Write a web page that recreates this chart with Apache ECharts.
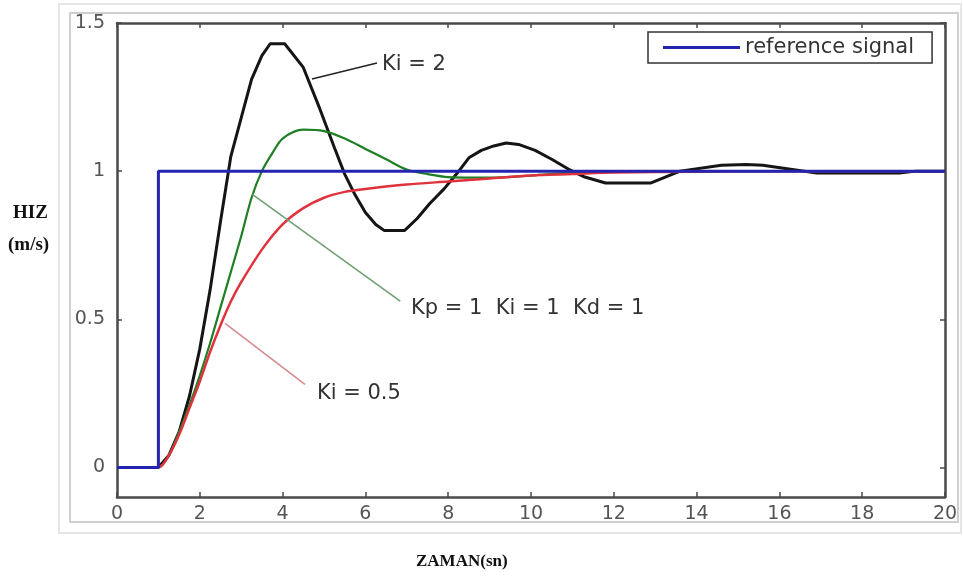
<!DOCTYPE html>
<html>
<head>
<meta charset="utf-8">
<title>PID step response</title>
<script src="https://cdn.jsdelivr.net/npm/echarts@6.0.0/dist/echarts.min.js"></script>
<style>
  html, body { margin: 0; padding: 0; background: #fff; }
  #chart { width: 963px; height: 580px; }
</style>
</head>
<body>
<div id="chart"></div>
<script>
// time axis ticks and y tick values
const xTicks = [0, 2, 4, 6, 8, 10, 12, 14, 16, 18, 20]
const yTicks = [0, 0.5, 1, 1.5]

// reference step
const tRef = [0, 1, 1, 20]
const vRef = [0, 0, 1, 1]

// Ki = 2 (black)
const tKi2 = [0, 1, 1.25, 1.5, 1.75, 2, 2.25, 2.5, 2.75, 3, 3.25, 3.5, 3.7, 4.05, 4.5, 4.9, 5.25, 5.5, 5.75, 6, 6.25, 6.45, 6.95, 7.25, 7.55, 7.9, 8.2, 8.5, 8.8, 9.1, 9.4, 9.7, 10.1, 10.5, 10.9, 11.3, 11.8, 12.9, 13.6, 14.6, 15.2, 15.6, 16.1, 16.9, 18.9, 19.3, 20]
const vKi2 = [0, 0, 0.04, 0.12, 0.24, 0.40, 0.60, 0.83, 1.05, 1.18, 1.31, 1.39, 1.43, 1.43, 1.35, 1.21, 1.08, 0.99, 0.92, 0.86, 0.82, 0.80, 0.80, 0.84, 0.89, 0.94, 0.99, 1.045, 1.07, 1.085, 1.095, 1.09, 1.07, 1.04, 1.007, 0.98, 0.96, 0.96, 1.0, 1.02, 1.022, 1.02, 1.01, 0.994, 0.994, 1.0, 1.0]

// Kp = 1 Ki = 1 Kd = 1 (green)
const tPid = [0, 1, 1.25, 1.5, 1.75, 2, 2.25, 2.5, 2.75, 3, 3.25, 3.5, 3.75, 4, 4.5, 5, 5.5, 6, 6.5, 7, 7.5, 8, 9, 10, 11, 12, 20]
const vPid = [0, 0, 0.04, 0.12, 0.21, 0.31, 0.42, 0.54, 0.66, 0.78, 0.91, 1.0, 1.06, 1.11, 1.14, 1.135, 1.11, 1.075, 1.04, 1.005, 0.99, 0.98, 0.978, 0.985, 0.995, 1, 1]

// Ki = 0.5 (red)
const tKi05 = [0, 1, 1.25, 1.5, 1.75, 2, 2.25, 2.5, 2.75, 3, 3.5, 4, 4.5, 5, 5.5, 6, 7, 8, 9, 10, 11, 12, 14, 16, 18, 20]
const vKi05 = [0, 0, 0.04, 0.11, 0.20, 0.29, 0.39, 0.48, 0.56, 0.625, 0.735, 0.82, 0.875, 0.91, 0.93, 0.94, 0.955, 0.965, 0.975, 0.985, 0.99, 0.995, 0.998, 1, 1, 1]

// annotation pointers, in data units: [from, to] and label anchor
const noteKi2 = { from: [4.71, 1.311], to: [6.28, 1.365], text: 'Ki = 2', at: [6.4, 1.36] }
const notePid = { from: [3.26, 0.922], to: [6.84, 0.561], text: 'Kp = 1  Ki = 1  Kd = 1', at: [7.1, 0.537] }
const noteKi05 = { from: [2.61, 0.486], to: [4.54, 0.280], text: 'Ki = 0.5', at: [4.83, 0.25] }

const zip = (t, v) => t.map((x, i) => [x, v[i]])

const font = 'DejaVu Sans, Verdana, sans-serif'
const axisColor = '#4a4a4a'

function note(n, color) {
  return {
    markLine: {
      silent: true,
      symbol: ['none', 'none'],
      animation: false,
      label: { show: false },
      lineStyle: { color: color, width: 1.5, type: 'solid' },
      emphasis: { disabled: true },
      data: [[{ coord: n.from }, { coord: n.to }]]
    },
    markPoint: {
      silent: true,
      symbol: 'circle',
      symbolSize: 0,
      animation: false,
      label: {
        show: true,
        position: 'right',
        distance: 0,
        formatter: n.text,
        color: '#333',
        fontSize: 21,
        fontFamily: font
      },
      data: [{ coord: n.at }]
    }
  }
}

const chart = echarts.init(document.getElementById('chart'))

const xBase = {
  type: 'value',
  min: 0,
  max: 20,
  interval: 2,
  splitLine: { show: false },
  axisLine: { show: true, onZero: false, lineStyle: { color: axisColor, width: 2.5 } },
  axisTick: { show: true, inside: true, length: 5, lineStyle: { color: axisColor, width: 1.5 } }
}
const yBase = {
  type: 'value',
  min: -0.1,
  max: 1.5,
  splitLine: { show: false },
  axisLine: { show: true, onZero: false, lineStyle: { color: axisColor, width: 2.5 } },
  axisTick: { show: true, inside: true, length: 5, customValues: yTicks, lineStyle: { color: axisColor, width: 1.5 } }
}

chart.setOption({
  animation: false,
  backgroundColor: '#fff',
  grid: { left: 117, right: 18, top: 23, bottom: 83 },
  xAxis: [
    Object.assign({}, xBase, {
      position: 'bottom',
      axisLabel: { color: '#555', fontSize: 19, fontFamily: font, margin: 8, customValues: xTicks }
    }),
    Object.assign({}, xBase, { position: 'top', axisLabel: { show: false } })
  ],
  yAxis: [
    Object.assign({}, yBase, {
      position: 'left',
      axisLabel: { color: '#555', fontSize: 19, fontFamily: font, margin: 12, customValues: yTicks }
    }),
    Object.assign({}, yBase, { position: 'right', axisLabel: { show: false } })
  ],
  legend: {
    left: 648,
    top: 32,
    data: [{ name: 'reference signal', icon: 'rect' }],
    itemWidth: 77,
    itemHeight: 3,
    padding: [5, 18, 5, 15],
    borderColor: '#333',
    borderWidth: 1.5,
    borderRadius: 0,
    backgroundColor: '#fff',
    textStyle: { color: '#333', fontSize: 21, fontFamily: font }
  },
  series: [
    Object.assign({
      name: 'Ki = 2',
      type: 'line',
      data: zip(tKi2, vKi2),
      showSymbol: false,
      color: '#151515',
      lineStyle: { color: '#151515', width: 3 },
      z: 2
    }, note(noteKi2, '#222')),
    Object.assign({
      name: 'Kp = 1 Ki = 1 Kd = 1',
      type: 'line',
      data: zip(tPid, vPid),
      showSymbol: false,
      smooth: 0.3,
      color: '#1f7f24',
      lineStyle: { color: '#1f7f24', width: 2.2 },
      z: 3
    }, note(notePid, '#6f9e6f')),
    Object.assign({
      name: 'Ki = 0.5',
      type: 'line',
      data: zip(tKi05, vKi05),
      showSymbol: false,
      smooth: 0.3,
      color: '#e0323c',
      lineStyle: { color: '#e0323c', width: 2.5 },
      z: 4
    }, note(noteKi05, '#d48a8f')),
    {
      name: 'reference signal',
      type: 'line',
      data: zip(tRef, vRef),
      showSymbol: false,
      color: '#2424b0',
      lineStyle: { color: '#2424b0', width: 3 },
      z: 5
    }
  ],
  graphic: [
    // figure frames around the plot
    { type: 'rect', shape: { x: 59, y: 4, width: 902, height: 529 }, style: { fill: null, stroke: '#e6e6e6', lineWidth: 2 }, silent: true },
    { type: 'rect', shape: { x: 70, y: 13, width: 888, height: 509 }, style: { fill: null, stroke: '#cfcfcf', lineWidth: 2 }, silent: true },
    // axis titles
    { type: 'text', left: 13, top: 204, style: { text: 'HIZ', fill: '#111', font: 'bold 19px "Liberation Serif", serif' } },
    { type: 'text', left: 8, top: 236, style: { text: '(m/s)', fill: '#111', font: 'bold 19px "Liberation Serif", serif' } },
    { type: 'text', left: 416, top: 553, style: { text: 'ZAMAN(sn)', fill: '#111', font: 'bold 17px "Liberation Serif", serif' } }
  ]
})
</script>
</body>
</html>
